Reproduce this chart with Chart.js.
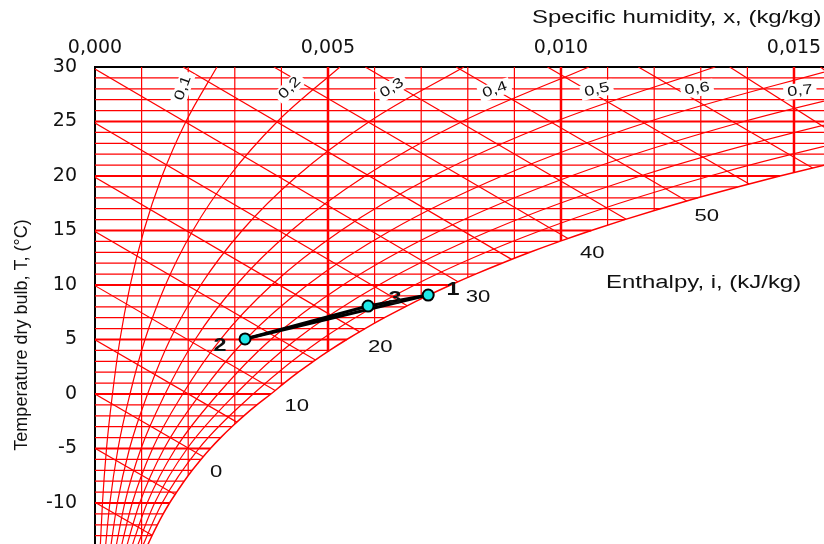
<!DOCTYPE html>
<html>
<head>
<meta charset="utf-8">
<script src="https://cdn.jsdelivr.net/npm/chart.js@4.4.0/dist/chart.umd.min.js"></script>
<style>
  body { margin: 0; background: #fff; }
  canvas { display: block; }
</style>
</head>
<body>
<canvas id="psyChart" width="824" height="544"></canvas>
<script>
// axis ticks
const xTicks = [0, 0.005, 0.010, 0.015];
const yTicks = [-10, -5, 0, 5, 10, 15, 20, 25, 30];

// saturation line (RH = 1): specific humidity at each whole degree
const satT = [-15, -14, -13, -12, -11, -10, -9, -8, -7, -6, -5, -4, -3, -2, -1, 0, 1, 2, 3, 4, 5, 6, 7, 8, 9, 10,
  11, 12, 13, 14, 15, 16, 17, 18, 19, 20, 21, 22];
const satX = [0.001018, 0.001116, 0.001223, 0.001339, 0.001464, 0.001600, 0.001753, 0.001913, 0.002086, 0.002273,
  0.002476, 0.002697, 0.002936, 0.003194, 0.003474, 0.003775, 0.004060, 0.004364, 0.004688, 0.005034, 0.005402,
  0.005795, 0.006212, 0.006656, 0.007128, 0.007631, 0.008165, 0.008732, 0.009333, 0.009972, 0.010649, 0.011367,
  0.012129, 0.012936, 0.013791, 0.014696, 0.015656, 0.016670];

// vertical grid lines and the temperature where each one stops on the saturation line
const gridX = [0.001, 0.002, 0.003, 0.004, 0.005, 0.006, 0.007, 0.008, 0.009, 0.010, 0.011, 0.012, 0.013, 0.014, 0.015];
const gridXEndT = [-15.2, -7.50, -2.75, 0.79, 3.90, 6.49, 8.73, 10.69, 12.45, 14.04, 15.49, 16.83, 18.07, 19.23, 20.32];

// horizontal grid lines, one per degree
const gridT = [-13, -12, -11, -10, -9, -8, -7, -6, -5, -4, -3, -2, -1, 0, 1, 2, 3, 4, 5, 6, 7, 8, 9, 10,
  11, 12, 13, 14, 15, 16, 17, 18, 19, 20, 21, 22, 23, 24, 25, 26, 27, 28, 29];

// relative humidity curves, x at these temperatures
const rhT = [-15, -10, -5, 0, 5, 10, 15, 20, 25, 30];
const rh10 = [0.000102, 0.000160, 0.000247, 0.000375, 0.000536, 0.000755, 0.001049, 0.001439, 0.001952, 0.002617];
const rh20 = [0.000203, 0.000319, 0.000494, 0.000751, 0.001073, 0.001512, 0.002101, 0.002885, 0.003915, 0.005256];
const rh30 = [0.000305, 0.000479, 0.000741, 0.001128, 0.001611, 0.002270, 0.003157, 0.004337, 0.005891, 0.007918];
const rh40 = [0.000407, 0.000639, 0.000988, 0.001504, 0.002150, 0.003030, 0.004216, 0.005796, 0.007880, 0.010602];
const rh50 = [0.000508, 0.000799, 0.001236, 0.001882, 0.002690, 0.003792, 0.005280, 0.007262, 0.009881, 0.013310];
const rh60 = [0.000610, 0.000959, 0.001483, 0.002259, 0.003230, 0.004557, 0.006346, 0.008735, 0.011895, 0.016040];
const rh70 = [0.000712, 0.001119, 0.001731, 0.002638, 0.003772, 0.005322, 0.007417, 0.010215, 0.013922, 0.018794];
const rh80 = [0.000814, 0.001280, 0.001980, 0.003016, 0.004315, 0.006090, 0.008490, 0.011702, 0.015962, 0.021572];
const rh90 = [0.000916, 0.001440, 0.002228, 0.003395, 0.004858, 0.006860, 0.009568, 0.013196, 0.018015, 0.024375];
const rhCurves = [rh10, rh20, rh30, rh40, rh50, rh60, rh70, rh80, rh90];

// enthalpy lines (kJ/kg): where each enters the chart and where it meets saturation
const enthalpy   = [-10, -5, 0, 5, 10, 15, 20, 25, 30, 35, 40, 45, 50, 55, 60, 65, 70];
const enthStartX = [0, 0, 0, 0, 0, 0, 0, 0, 0, 0.00189, 0.00384, 0.00580, 0.00775, 0.00971, 0.01166, 0.01362, 0.01557];
const enthStartT = [-9.94, -4.97, 0, 4.97, 9.94, 14.91, 19.88, 24.85, 29.82, 30, 30, 30, 30, 30, 30, 30, 30];
const enthEndX   = [0.001227, 0.001719, 0.002324, 0.003043, 0.003866, 0.00473, 0.00568, 0.00670, 0.00779,
  0.00894, 0.01015, 0.01140, 0.01270, 0.01404, 0.01540, 0.01660, 0.01760];
const enthEndT   = [-12.96, -9.22, -5.75, -2.58, 0.32, 3.12, 5.70, 8.10, 10.30, 12.35, 14.26, 16.04, 17.71,
  19.27, 20.74, 21.90, 23.00];

// curve labels
const rhLabels = ['0,1', '0,2', '0,3', '0,4', '0,5', '0,6', '0,7'];
const rhLabelX = [0.00189, 0.00418, 0.00637, 0.00858, 0.01077, 0.01292, 0.01513];
const rhLabelT = [28.07, 28.07, 28.07, 27.9, 27.9, 28.0, 27.8];
const rhLabelAngle = [-70, -45, -32, -20, -13, -9, -6];

const enthLabels = ['0', '10', '20', '30', '40', '50'];
const enthLabelX = [0.00260, 0.00433, 0.00612, 0.00822, 0.01067, 0.01313];
const enthLabelT = [-7.16, -1.10, 4.31, 8.90, 12.94, 16.33];

// process points 2 -> 3 -> 1
const procNames = ['2', '3', '1'];
const procX = [0.00322, 0.00586, 0.00715];
const procT = [5.05, 8.07, 9.08];
const procLabelX = [0.00268, 0.00644, 0.00768];
const procLabelT = [4.40, 8.72, 9.54];

const RED = "rgb(255,0,0)";
const datasets = [];

function seg(points, width, extra) {
  return Object.assign({
    data: points,
    borderColor: RED,
    borderWidth: width,
    pointRadius: 0,
    fill: false
  }, extra || {});
}

// process line first so it sits on top
datasets.push({
  data: procX.map((x, i) => ({ x: x, y: procT[i] })),
  borderColor: "#000",
  borderWidth: 3,
  pointRadius: 5.5,
  pointBackgroundColor: "#20e8e8",
  pointBorderColor: "#000",
  pointBorderWidth: 2,
  fill: false
});
datasets.push(seg([{ x: procX[0], y: procT[0] }, { x: procX[2], y: procT[2] }], 3, { borderColor: "#000" }));

// saturation line
datasets.push(seg(satT.map((t, i) => ({ x: satX[i], y: t })), 1.5, { cubicInterpolationMode: "monotone" }));

// relative humidity curves
rhCurves.forEach(c => {
  datasets.push(seg(rhT.map((t, i) => ({ x: c[i], y: t })), 1.2, { cubicInterpolationMode: "monotone" }));
});

// enthalpy lines
enthalpy.forEach((h, i) => {
  datasets.push(seg([{ x: enthStartX[i], y: enthStartT[i] }, { x: enthEndX[i], y: enthEndT[i] }], 1.2));
});

// vertical grid
gridX.forEach((x, i) => {
  const thick = Math.round(x * 1000) % 5 === 0;
  datasets.push(seg([{ x: x, y: 30 }, { x: x, y: gridXEndT[i] }], thick ? 2.5 : 1.2));
});

// horizontal grid, ends on the saturation line
gridT.forEach(t => {
  const k = satT.indexOf(t);
  const xEnd = k >= 0 ? satX[k] : 0.017;
  datasets.push(seg([{ x: 0, y: t }, { x: xEnd, y: t }], t % 5 === 0 ? 2 : 1.2));
});

function drawText(ctx, str, px, py, size, opts) {
  opts = opts || {};
  ctx.save();
  ctx.translate(px, py);
  if (opts.angle) ctx.rotate(opts.angle * Math.PI / 180);
  ctx.scale(opts.stretch || 1, 1);
  ctx.font = (opts.bold ? "bold " : "") + size + 'px "Liberation Sans", Arial, sans-serif';
  ctx.textAlign = opts.align || "center";
  ctx.textBaseline = "middle";
  if (opts.box) {
    const w = ctx.measureText(str).width;
    ctx.fillStyle = "#fff";
    ctx.fillRect(-w / 2 - 3, -size * 0.55, w + 6, size * 1.1);
  }
  ctx.fillStyle = "#111";
  ctx.fillText(str, 0, 0);
  ctx.restore();
}

const labelPlugin = {
  id: "chartLabels",
  afterDatasetsDraw(chart) {
    const ctx = chart.ctx;
    const sx = chart.scales.x, sy = chart.scales.y;
    const S = 1.3;
    rhLabels.forEach((s, i) => {
      drawText(ctx, s, sx.getPixelForValue(rhLabelX[i]), sy.getPixelForValue(rhLabelT[i]), 14,
        { angle: rhLabelAngle[i], stretch: S, box: true });
    });
    enthLabels.forEach((s, i) => {
      drawText(ctx, s, sx.getPixelForValue(enthLabelX[i]), sy.getPixelForValue(enthLabelT[i]), 17, { stretch: S });
    });
    procNames.forEach((s, i) => {
      drawText(ctx, s, sx.getPixelForValue(procLabelX[i]), sy.getPixelForValue(procLabelT[i]), 18,
        { stretch: S, bold: true });
    });
    drawText(ctx, "Enthalpy, i, (kJ/kg)", 606, 283, 18, { stretch: 1.33, align: "left" });
    drawText(ctx, "Specific humidity, x, (kg/kg)", 532, 18, 18, { stretch: 1.33, align: "left" });
    drawText(ctx, "Temperature dry bulb, T, (°C)", 22, 335, 18, { angle: -90 });
  }
};

// the plot area runs off the bottom and right edges, so no room is kept for end labels
function noEdgePadding(s) {
  s.paddingTop = 0;
  s.paddingBottom = 0;
  s.paddingLeft = 0;
  s.paddingRight = 0;
}

new Chart(document.getElementById("psyChart"), {
  type: "line",
  data: { datasets: datasets },
  options: {
    responsive: false,
    animation: false,
    devicePixelRatio: 1,
    events: [],
    layout: { padding: 0, autoPadding: false },
    plugins: { legend: { display: false }, tooltip: { enabled: false } },
    scales: {
      x: {
        type: "linear",
        position: "top",
        min: 0,
        max: 0.015644,
        grid: { display: false, drawTicks: false },
        border: { display: true, color: "#000", width: 2 },
        afterBuildTicks: s => { s.ticks = xTicks.map(v => ({ value: v })); },
        afterFit: s => { s.height = 67; noEdgePadding(s); },
        ticks: {
          autoSkip: false,
          maxRotation: 0,
          padding: 8,
          color: "#111",
          font: { family: "DejaVu Sans", size: 19 },
          callback: v => v.toFixed(3).replace(".", ",")
        }
      },
      y: {
        type: "linear",
        position: "left",
        min: -13.76,
        max: 30,
        grid: { display: false, drawTicks: false },
        border: { display: true, color: "#000", width: 2 },
        afterBuildTicks: s => { s.ticks = yTicks.map(v => ({ value: v })); },
        afterFit: s => { s.width = 95; noEdgePadding(s); },
        ticks: {
          autoSkip: false,
          padding: 18,
          color: "#111",
          font: { family: "DejaVu Sans", size: 19 },
          callback: v => String(v)
        }
      }
    }
  },
  plugins: [labelPlugin]
});
</script>
</body>
</html>
